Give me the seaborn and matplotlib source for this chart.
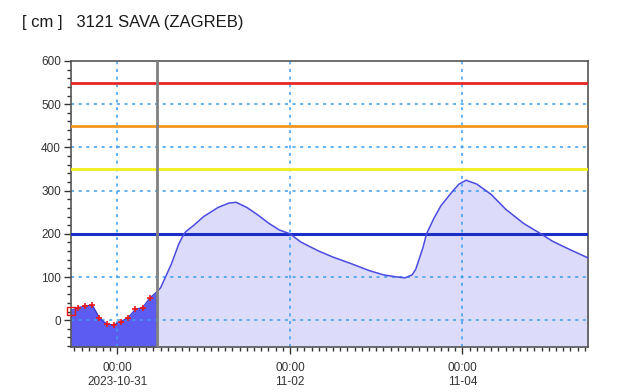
import matplotlib
matplotlib.use("Agg")
import matplotlib.pyplot as plt
import matplotlib.dates as mdates
from matplotlib.ticker import MultipleLocator
import seaborn as sns
import pandas as pd

# ---- data ----
obs_times = ["2023-10-30 11:00", "2023-10-30 13:00", "2023-10-30 15:00", "2023-10-30 17:00",
             "2023-10-30 19:00", "2023-10-30 21:00", "2023-10-30 23:00", "2023-10-31 01:00",
             "2023-10-31 03:00", "2023-10-31 05:00", "2023-10-31 07:00", "2023-10-31 09:00",
             "2023-10-31 11:00"]
obs_values = [22, 29, 33, 35, 5, -9, -11, -3, 6, 25, 29, 51, 66]

fc_hours = [11, 12, 15, 17, 18, 19, 21, 24, 28, 31, 33, 36, 39, 42, 45, 48, 51, 56, 60, 65,
            70, 74, 77, 80, 82, 83, 85, 86, 88, 90, 93, 95, 97, 100, 104, 108, 113, 118,
            121, 126, 131]
fc_values = [66, 75, 130, 175, 192, 205, 218, 240, 261, 271, 273, 261, 244, 225, 209, 200,
             181, 160, 146, 131, 115, 105, 101, 98, 105, 118, 168, 200, 235, 265, 296, 315,
             324, 315, 291, 257, 224, 199, 183, 163, 144]

thresholds = [550, 450, 350, 200]
threshold_colors = ["#e82525", "#f5961e", "#f2ee1a", "#1a2fc8"]
threshold_widths = [2.0, 2.0, 2.0, 2.2]

x_ticks = ["2023-10-31 00:00", "2023-11-02 00:00", "2023-11-04 00:00"]
x_labels = ["00:00\n2023-10-31", "00:00\n11-02", "00:00\n11-04"]
x_start, x_end = "2023-10-30 11:00", "2023-11-05 11:00"
now_time = "2023-10-31 11:00"
y_min, y_max = -62, 600
title = "[ cm ]   3121 SAVA (ZAGREB)"

# ---- frames ----
base = pd.Timestamp("2023-10-31 00:00")
obs = pd.DataFrame({"t": pd.to_datetime(obs_times), "v": obs_values})
fc = pd.DataFrame({"t": [base + pd.Timedelta(hours=h) for h in fc_hours], "v": fc_values})

sns.set_style("white")
plt.rcParams["font.family"] = ["Liberation Sans", "DejaVu Sans"]

fig = plt.figure(figsize=(6.22, 3.92), dpi=100)
ax = fig.add_axes([0.1137, 0.1148, 0.8321, 0.7296])

ax.fill_between(fc["t"], fc["v"], y_min, color="#dcdcfa", lw=0, zorder=1)
ax.fill_between(obs["t"], obs["v"], y_min, color="#5c5cf2", lw=0, zorder=1)

# grid
for yv in range(0, 600, 100):
    ax.axhline(yv, color="#3d9cf0", lw=1.1, ls=(0, (2, 3)), zorder=2)
for xt in x_ticks:
    ax.axvline(pd.Timestamp(xt), color="#3d9cf0", lw=1.1, ls=(0, (2, 3)), zorder=2)

for th, c, w in zip(thresholds, threshold_colors, threshold_widths):
    ax.axhline(th, color=c, lw=w, zorder=3)

sns.lineplot(data=fc, x="t", y="v", ax=ax, color="#4a4ae0", lw=1.1, zorder=4)
sns.lineplot(data=obs, x="t", y="v", ax=ax, color="#3a3ad8", lw=1.0, zorder=4)
ax.scatter(obs["t"][1:-1], obs["v"][1:-1], marker="+", color="#e81818", s=20, lw=1.2, zorder=5)
ax.scatter(obs["t"][:1], obs["v"][:1], marker="s", facecolor="none", edgecolor="#e81818",
           s=36, lw=1.0, zorder=5, clip_on=False)

ax.axvline(pd.Timestamp(now_time), color="#808080", lw=2.0, zorder=6)

ax.set_xlim(pd.Timestamp(x_start), pd.Timestamp(x_end))
ax.set_ylim(y_min, y_max)
ax.set_xticks([pd.Timestamp(x) for x in x_ticks])
ax.set_xticklabels(x_labels)
ax.xaxis.set_minor_locator(mdates.HourLocator(byhour=range(0, 24, 2)))
ax.set_yticks(range(0, 601, 100))
ax.yaxis.set_minor_locator(MultipleLocator(20))
ax.set_xlabel("")
ax.set_ylabel("")

for s in ax.spines.values():
    s.set_color("#555555")
    s.set_linewidth(1.2)
ax.tick_params(axis="both", which="major", length=5, width=1, color="#333333",
               labelsize=8.5, labelcolor="#333333", direction="out")
ax.tick_params(axis="both", which="minor", length=3, width=1, color="#333333", direction="out")
ax.tick_params(axis="x", which="both", bottom=True, pad=6)
ax.tick_params(axis="y", which="both", left=True, pad=2)

fig.text(22 / 622, 1 - 22 / 392, title, fontsize=12, color="#1a1a1a", va="center", ha="left")

fig.savefig("out.png", dpi=100)
